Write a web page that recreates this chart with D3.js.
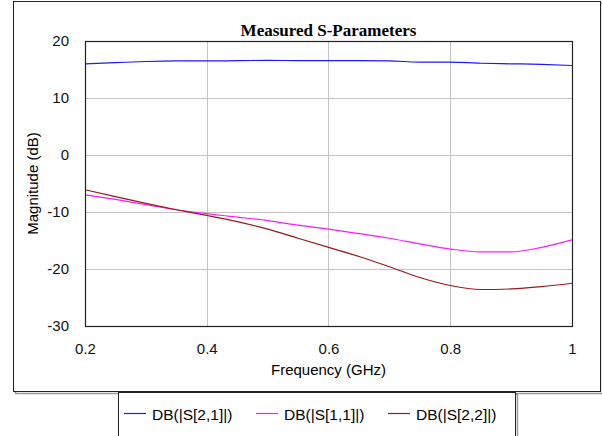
<!DOCTYPE html>
<html>
<head>
<meta charset="utf-8">
<script src="https://cdn.jsdelivr.net/npm/d3@7"></script>
<style>
  body { margin: 0; background: #fff; }
  svg { display: block; }
  .tick text { font-family: "Liberation Sans", Arial, sans-serif; font-size: 15px; fill: #111; }
</style>
</head>
<body>
<div id="chart"></div>
<script>
// frequencies in GHz
const freq = [0.20, 0.25, 0.30, 0.35, 0.40, 0.45, 0.50, 0.55, 0.60, 0.65, 0.70, 0.75, 0.80, 0.85, 0.90, 0.95, 1.00];
// magnitudes in dB
const s21 = [16.0, 16.2, 16.4, 16.5, 16.5, 16.55, 16.6, 16.55, 16.55, 16.55, 16.5, 16.3, 16.3, 16.1, 16.0, 15.9, 15.7];
const s11 = [-7.0, -7.8, -8.7, -9.6, -10.3, -10.9, -11.5, -12.3, -13.0, -13.8, -14.6, -15.6, -16.5, -17.0, -17.0, -16.2, -14.9];
const s22 = [-6.1, -7.3, -8.5, -9.6, -10.6, -11.7, -13.0, -14.6, -16.2, -17.8, -19.6, -21.5, -22.9, -23.6, -23.5, -23.1, -22.5];

const seriesNames = ['DB(|S[2,1]|)', 'DB(|S[1,1]|)', 'DB(|S[2,2]|)'];
const seriesColors = ['#1a1aff', '#ff19ff', '#9a1a1a'];
const xTicks = [0.2, 0.4, 0.6, 0.8, 1];
const yTicks = [-30, -20, -10, 0, 10, 20];

const width = 602, height = 436;
const margin = { top: 41, right: 30, bottom: 110, left: 85 };
const plotW = 572 - margin.left;
const plotH = 326 - margin.top;

const svg = d3.select('#chart').append('svg')
    .attr('width', width)
    .attr('height', height);

// outer frame with shadow
svg.append('rect')
    .attr('x', 15.5).attr('y', 3.5)
    .attr('width', 587).attr('height', 390)
    .attr('fill', 'none').attr('stroke', '#999').attr('stroke-width', 1.5);
svg.append('rect')
    .attr('x', 13.5).attr('y', 1.5)
    .attr('width', 587).attr('height', 390)
    .attr('fill', '#fff').attr('stroke', '#222').attr('stroke-width', 1);

// legend box with shadow
svg.append('rect')
    .attr('x', 120.5).attr('y', 394.5)
    .attr('width', 397).attr('height', 60)
    .attr('fill', 'none').attr('stroke', '#999').attr('stroke-width', 1.5);
svg.append('rect')
    .attr('x', 118.5).attr('y', 392.5)
    .attr('width', 397).attr('height', 60)
    .attr('fill', '#fff').attr('stroke', '#222').attr('stroke-width', 1);

const g = svg.append('g')
    .attr('transform', `translate(${margin.left},${margin.top})`);

const xScale = d3.scaleLinear().domain([0.2, 1]).range([0, plotW]);
const yScale = d3.scaleLinear().domain([-30, 20]).range([plotH, 0]);

// grid
g.append('g').selectAll('line')
    .data(xTicks.slice(1, -1))
    .join('line')
    .attr('x1', d => Math.round(xScale(d)) + 0.5).attr('x2', d => Math.round(xScale(d)) + 0.5)
    .attr('y1', 0).attr('y2', plotH)
    .attr('stroke', '#c4c4c4');
g.append('g').selectAll('line')
    .data(yTicks.slice(1, -1))
    .join('line')
    .attr('y1', d => Math.round(yScale(d)) + 0.5).attr('y2', d => Math.round(yScale(d)) + 0.5)
    .attr('x1', 0).attr('x2', plotW)
    .attr('stroke', '#c4c4c4');

// axes (labels only), plain hyphen for negatives
const xAxis = d3.axisBottom(xScale).tickValues(xTicks).tickFormat(d => String(d)).tickSize(0).tickPadding(17);
const yAxis = d3.axisLeft(yScale).tickValues(yTicks).tickFormat(d => String(d)).tickSize(0).tickPadding(16);
g.append('g').attr('transform', `translate(0,${plotH})`).call(xAxis)
    .call(a => a.select('.domain').remove());
g.append('g').call(yAxis)
    .call(a => a.select('.domain').remove());

// series
const line = d3.line()
    .x(d => xScale(d[0]))
    .y(d => yScale(d[1]))
    .curve(d3.curveMonotoneX);
[s21, s11, s22].forEach((vals, i) => {
    g.append('path')
        .datum(freq.map((f, j) => [f, vals[j]]))
        .attr('d', line)
        .attr('fill', 'none')
        .attr('stroke', seriesColors[i])
        .attr('stroke-width', 1.2);
});

// plot border
g.append('rect')
    .attr('x', 0.5).attr('y', 0.5)
    .attr('width', plotW).attr('height', plotH)
    .attr('fill', 'none').attr('stroke', '#222').attr('stroke-width', 1.2);

// title
svg.append('text')
    .attr('x', margin.left + plotW / 2).attr('y', 36)
    .attr('text-anchor', 'middle')
    .attr('font-family', '"Liberation Serif", "Times New Roman", serif')
    .attr('font-weight', 'bold').attr('font-size', 17)
    .text('Measured S-Parameters');

// axis titles
svg.append('text')
    .attr('x', margin.left + plotW / 2).attr('y', 375)
    .attr('text-anchor', 'middle')
    .attr('font-family', '"Liberation Sans", Arial, sans-serif').attr('font-size', 15)
    .text('Frequency (GHz)');
svg.append('text')
    .attr('transform', `translate(38,${margin.top + plotH / 2}) rotate(-90)`)
    .attr('text-anchor', 'middle')
    .attr('font-family', '"Liberation Sans", Arial, sans-serif').attr('font-size', 15)
    .text('Magnitude (dB)');

// legend
const legendX = [124, 256, 388];
const legendItems = seriesNames.map((name, i) => ({ name, color: seriesColors[i], x: legendX[i] }));
const legend = svg.append('g').selectAll('g')
    .data(legendItems)
    .join('g')
    .attr('transform', d => `translate(${d.x},413)`);
legend.append('line')
    .attr('x1', 0).attr('x2', 22).attr('y1', 0.5).attr('y2', 0.5)
    .style('stroke', d => d.color).attr('stroke-width', 1.2);
legend.append('text')
    .attr('x', 28).attr('y', 7)
    .attr('font-family', '"Liberation Sans", Arial, sans-serif').attr('font-size', 15.5)
    .text(d => d.name);
</script>
</body>
</html>
